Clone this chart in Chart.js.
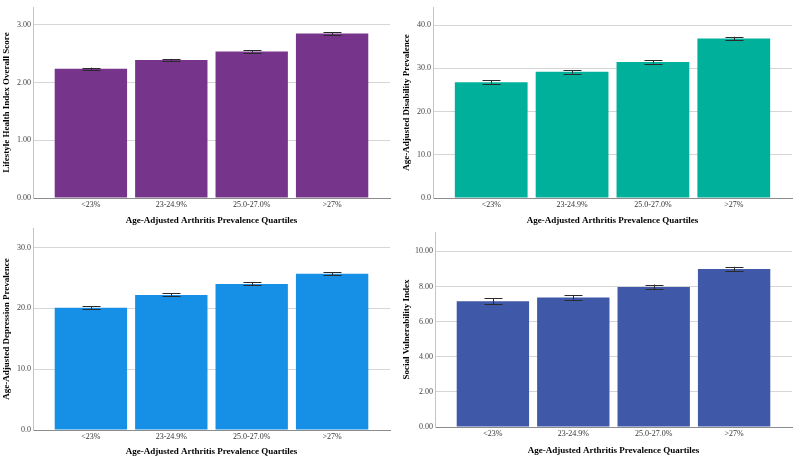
<!DOCTYPE html>
<html>
<head>
<meta charset="utf-8">
<script src="https://cdn.jsdelivr.net/npm/chart.js@4.4.0/dist/chart.umd.min.js"></script>
<style>
    html, body { margin: 0; padding: 0; background: #fff; }
    #wrap { position: relative; width: 796px; height: 459px; overflow: hidden; }
    canvas { position: absolute; }
</style>
</head>
<body>
<div id="wrap">
    <canvas id="lhi" width="398" height="230" style="left:0;top:0"></canvas>
    <canvas id="dis" width="396" height="230" style="left:400px;top:0"></canvas>
    <canvas id="dep" width="398" height="238" style="left:0;top:221px"></canvas>
    <canvas id="svi" width="396" height="238" style="left:400px;top:221px"></canvas>
</div>
<script>

// Data {

    const quartiles = ['<23%', '23-24.9%', '25.0-27.0%', '>27%'];

    const lifestyle = [2.24, 2.39, 2.54, 2.85];
    const lifestyleErr = [0.02, 0.02, 0.02, 0.02];

    const disability = [26.8, 29.2, 31.5, 36.9];
    const disabilityErr = [0.4, 0.4, 0.4, 0.4];

    const depression = [20.1, 22.2, 24.0, 25.7];
    const depressionErr = [0.25, 0.25, 0.25, 0.25];

    const svi = [7.16, 7.37, 7.97, 8.99];
    const sviErr = [0.16, 0.15, 0.14, 0.13];

// };

// Helpers {

    const serif = '"Liberation Serif", "Times New Roman", serif';

    const errorBars = {
        id: 'errorBars',
        afterDatasetsDraw(chart, args, opts) {
            const { ctx, scales: { x, y } } = chart;
            const vals = chart.data.datasets[0].data;
            ctx.save();
            ctx.strokeStyle = '#2b2b2b';
            ctx.lineWidth = 1;
            vals.forEach((p, i) => {
                const e = opts.err[i];
                const px = Math.round(x.getPixelForValue(p.x)) + 0.5;
                const hi = y.getPixelForValue(p.y + e);
                const lo = y.getPixelForValue(p.y - e);
                ctx.beginPath();
                ctx.moveTo(px, hi); ctx.lineTo(px, lo);
                ctx.moveTo(px - 9, Math.round(hi) + 0.5); ctx.lineTo(px + 9, Math.round(hi) + 0.5);
                ctx.moveTo(px - 9, Math.round(lo) + 0.5); ctx.lineTo(px + 9, Math.round(lo) + 0.5);
                ctx.stroke();
            });
            ctx.restore();
        }
    };

    function makeChart(id, cfg) {
        const ctx = document.getElementById(id).getContext('2d');
        return new Chart(ctx, {
            type: 'bar',
            data: {
                datasets: [{
                    data: cfg.values.map((v, i) => ({ x: i, y: v })),
                    backgroundColor: cfg.color,
                    borderWidth: 0,
                    barPercentage: 0.9,
                    categoryPercentage: 1.0
                }]
            },
            options: {
                responsive: false,
                animation: false,
                devicePixelRatio: 1,
                layout: { padding: { top: cfg.padTop, right: cfg.padRight, left: 0, bottom: 0 } },
                plugins: {
                    legend: { display: false },
                    tooltip: { enabled: false },
                    errorBars: { err: cfg.err }
                },
                scales: {
                    x: {
                        type: 'linear',
                        offset: false,
                        bounds: 'data',
                        min: -0.72,
                        max: 3.72,
                        afterBuildTicks: (s) => { s.ticks = quartiles.map((q, i) => ({ value: i })); },
                        afterFit: (s) => { s.height = cfg.xHeight; },
                        grid: { display: false, drawTicks: false, offset: false },
                        border: { display: true, color: '#8c8c8c', width: 1 },
                        ticks: {
                            callback: (v) => quartiles[v],
                            color: '#333',
                            padding: 2,
                            maxRotation: 0,
                            font: { family: serif, size: 8 }
                        },
                        title: {
                            display: true,
                            text: 'Age-Adjusted Arthritis Prevalence Quartiles',
                            color: '#000',
                            padding: { top: 0, bottom: cfg.titleBottom },
                            font: { family: serif, size: 9, weight: 'bold' }
                        }
                    },
                    y: {
                        min: 0,
                        max: cfg.max,
                        afterFit: (s) => { s.width = cfg.yWidth; },
                        grid: { color: '#d6d6d6', lineWidth: 1, drawTicks: false },
                        border: { display: true, color: '#c4c4c4', width: 1 },
                        ticks: {
                            stepSize: cfg.step,
                            includeBounds: false,
                            color: '#444',
                            padding: 2,
                            font: { family: serif, size: 8 },
                            callback: (v) => v.toFixed(cfg.dec)
                        },
                        title: {
                            display: true,
                            text: cfg.title,
                            color: '#000',
                            padding: { top: 1, bottom: 0 },
                            font: { family: serif, size: 9, weight: 'bold' }
                        }
                    }
                }
            },
            plugins: [errorBars]
        });
    }

// };

// Charts {

    makeChart('lhi', {
        values: lifestyle, err: lifestyleErr, color: '#76358b',
        title: 'Lifestyle Health Index Overall Score',
        max: 3.31, step: 1, dec: 2,
        padTop: 7, padRight: 8, yWidth: 33, xHeight: 32, titleBottom: 4
    });

    makeChart('dis', {
        values: disability, err: disabilityErr, color: '#00b09b',
        title: 'Age-Adjusted Disability Prevalence',
        max: 44.2, step: 10, dec: 1,
        padTop: 7, padRight: 4, yWidth: 33, xHeight: 32, titleBottom: 4
    });

    makeChart('dep', {
        values: depression, err: depressionErr, color: '#168fe6',
        title: 'Age-Adjusted Depression Prevalence',
        max: 33.2, step: 10, dec: 1,
        padTop: 7, padRight: 8, yWidth: 33, xHeight: 29, titleBottom: 2
    });

    makeChart('svi', {
        values: svi, err: sviErr, color: '#3f58a8',
        title: 'Social Vulnerability Index',
        max: 11.1, step: 2, dec: 2,
        padTop: 11, padRight: 4, yWidth: 35, xHeight: 32, titleBottom: 3
    });

// };

</script>
</body>
</html>
